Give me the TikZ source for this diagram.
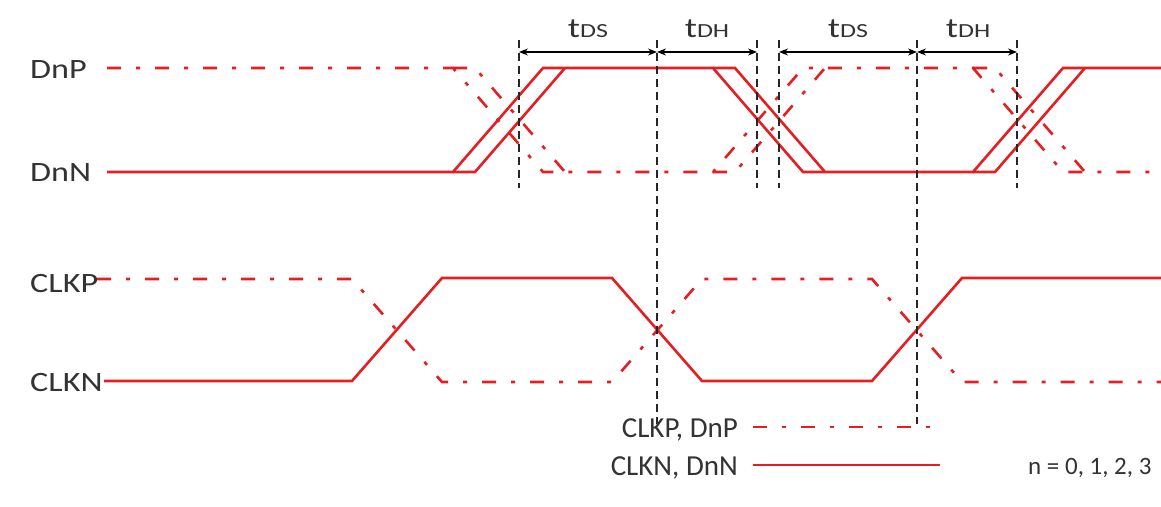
\documentclass[tikz,border=0pt]{standalone}
\usepackage{graphicx}
\usepackage{fontspec}
\setmainfont{Carlito}
\usetikzlibrary{arrows.meta}
\definecolor{sigred}{RGB}{228,30,34}
\newcommand{\wide}[2][1.22]{\scalebox{#1}[1]{#2}}
\newcommand{\tsub}[2]{\wide[1.3]{{\fontsize{28}{30}\selectfont #1}{\fontsize{20}{22}\selectfont #2}}}
\begin{document}
\begin{tikzpicture}[x=1pt,y=-1pt,
  sig/.style={draw=sigred, line width=2.6pt, line join=miter},
  dd/.style={sig, dash pattern=on 14pt off 15pt on 4pt off 15pt},
  guide/.style={draw=black!85, line width=1.4pt, dash pattern=on 8pt off 5pt},
  dim/.style={draw=black, line width=1.3pt, {Stealth[length=9pt,width=7pt]}-{Stealth[length=9pt,width=7pt]}},
  lbl/.style={font=\fontsize{28}{30}\selectfont, text=black!80, inner sep=0pt},
  leg/.style={font=\fontsize{29}{31}\selectfont, text=black!80, inner sep=0pt},
  tlbl/.style={inner sep=0pt, text=black!80}]
\useasboundingbox (0,0) rectangle (1161,506);
\fill[white] (0,0) rectangle (1161,506);
% labels
\node[lbl, anchor=base west] (dnp) at (30,78) {\wide{DnP}};
\node[lbl, anchor=base west] (dnn) at (30,181) {\wide{DnN}};
\node[lbl, anchor=base west] (clkp) at (30,292) {\wide{CLKP}};
\node[lbl, anchor=base west] (clkn) at (30,391) {\wide{CLKN}};
% data: DnN solid
\draw[sig] (107,172) -- (453,172) -- (543,68) -- (713,68) -- (803,172) -- (973,172) -- (1063,68) -- (1161,68);
\draw[sig] (453,172) -- (475,172) -- (565,68);
\draw[sig] (713,68) -- (735,68) -- (825,172);
\draw[sig] (973,172) -- (995,172) -- (1085,68);
% data: DnP dash-dot
\draw[dd] (107,68) -- (453,68) -- (543,172) -- (713,172) -- (803,68) -- (973,68) -- (1063,172) -- (1158,172);
\draw[dd] (453,68) -- (475,68) -- (565,172);
\draw[dd] (713,172) -- (735,172) -- (825,68);
\draw[dd] (973,68) -- (995,68) -- (1085,172);
% clock
\draw[dd] (97,279) -- (352,279) -- (442,382) -- (612,382) -- (702,279) -- (872,279) -- (962,382) -- (1161,382);
\draw[sig] (104,381) -- (352,381) -- (442,278) -- (612,278) -- (702,381) -- (872,381) -- (962,278) -- (1161,278);
% guides
\foreach \n/\x/\b in {1/519/188, 2/657/424, 3/757/188, 4/779/188, 5/917/424, 6/1017/188}{
  \coordinate (gt\n) at (\x,40);
  \coordinate (gb\n) at (\x,\b);
  \coordinate (ga\n) at (\x,52);
  \draw[guide] (gt\n) -- (gb\n);
}
\draw[dim] (ga1) -- (ga2);
\draw[dim] (ga2) -- (ga3);
\draw[dim] (ga4) -- (ga5);
\draw[dim] (ga5) -- (ga6);
\node[tlbl, anchor=base] (tds1) at (588,37) {\tsub{t}{DS}};
\node[tlbl, anchor=base] (tdh1) at (707,37) {\tsub{t}{DH}};
\node[tlbl, anchor=base] (tds2) at (848,37) {\tsub{t}{DS}};
\node[tlbl, anchor=base] (tdh2) at (968,37) {\tsub{t}{DH}};
% legend
\node[leg, anchor=base east] (lg1) at (738,437) {CLKP, DnP};
\node[leg, anchor=base east] (lg2) at (738,475) {CLKN, DnN};
\coordinate (l1a) at (753,427); \coordinate (l1b) at (936,427);
\coordinate (l2a) at (753,465); \coordinate (l2b) at (940,465);
\draw[dd] (l1a) -- (l1b);
\draw[sig] (l2a) -- (l2b);
\node[leg, font=\fontsize{25}{27}\selectfont, anchor=base west] (nn) at (1028,474) {n = 0, 1, 2, 3};
\end{tikzpicture}
\end{document}
